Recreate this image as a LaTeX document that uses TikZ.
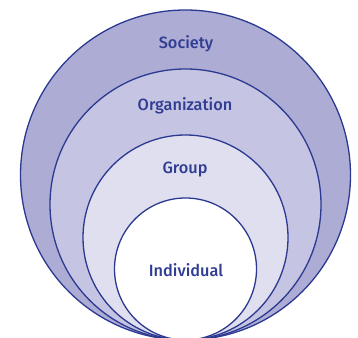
\documentclass[tikz,border=0pt]{standalone}
\usepackage{fontspec}
\setmainfont{Fira Sans}[UprightFont=* Medium]
\definecolor{strokeblue}{HTML}{2B3990}
\definecolor{textblue}{HTML}{303D92}
\definecolor{fillA}{HTML}{ADACD5}
\definecolor{fillB}{HTML}{C5C4E2}
\definecolor{fillC}{HTML}{E0DFEF}
\tikzset{
  ring/.style={circle, draw=strokeblue, line width=1.3pt, inner sep=0pt},
  lab/.style={text=textblue, font=\fontsize{16.3}{18}\selectfont, inner sep=0pt}
}
\begin{document}
\begin{tikzpicture}[x=1pt,y=1pt]
\useasboundingbox (0,0) rectangle (358,337);
\clip (0,0) rectangle (358,337);
\node[ring, fill=fillA, minimum size=330pt] (society) at (185.5,162) {};
\node[ring, fill=fillB, minimum size=271pt] (organization) at (185.5,132.5) {};
\node[ring, fill=fillC, minimum size=205pt] (group) at (185.5,99.5) {};
\node[ring, fill=white, minimum size=142pt] (individual) at (185.5,68) {};
\node[lab] (tsociety) at (186,293) {Society};
\node[lab] (torganization) at (185,231.5) {Organization};
\node[lab] (tgroup) at (185,167) {Group};
\node[lab] (tindividual) at (186,66.5) {Individual};
\end{tikzpicture}
\end{document}
